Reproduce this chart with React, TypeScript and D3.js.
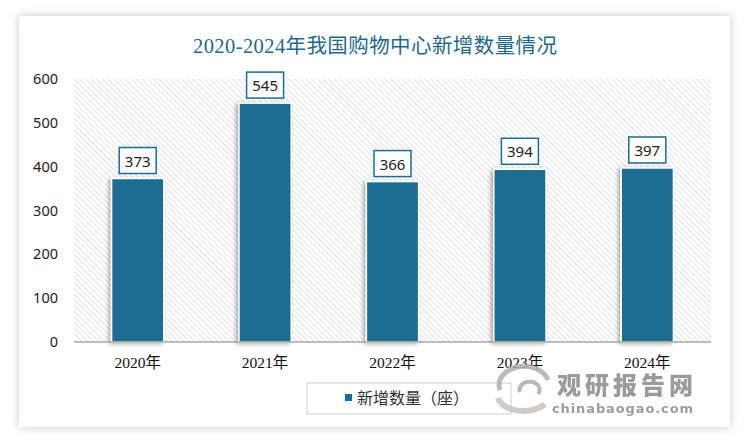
import React from "react";
import * as d3 from "d3";

const categories = ["2020年", "2021年", "2022年", "2023年", "2024年"];
const values = [373, 545, 366, 394, 397];
const yTicks = [0, 100, 200, 300, 400, 500, 600];
const title = "2020-2024年我国购物中心新增数量情况";
const seriesName = "新增数量（座）";

export default function App() {
  const W = 750, H = 445;
  const plot = { left: 74, right: 711, top: 79, bottom: 342 };
  const x = d3.scaleBand<string>().domain(categories).range([plot.left, plot.right]).paddingInner(0.59).paddingOuter(0.295);
  const y = d3.scaleLinear().domain([0, 600]).range([plot.bottom, plot.top]);
  const barColor = "#1d6d90";
  return (
    <svg width={W} height={H} style={{ position: "absolute", left: 0, top: 0 }}>
      <defs>
        <filter id="cardShadow" x="-10%" y="-10%" width="120%" height="120%">
          <feDropShadow dx="0" dy="0" stdDeviation="5" floodColor="#000" floodOpacity="0.22" />
        </filter>
        <filter id="barShadow" x="-30%" y="-10%" width="160%" height="120%">
          <feDropShadow dx="-2" dy="1" stdDeviation="2" floodColor="#000" floodOpacity="0.35" />
        </filter>
        <pattern id="hatch" width="4" height="4" patternUnits="userSpaceOnUse" patternTransform="rotate(-45)">
          <rect width="4" height="4" fill="#ffffff" />
          <line x1="0" y1="0" x2="0" y2="4" stroke="#cfcfcf" strokeWidth="1.2" />
        </pattern>
      </defs>
      <rect x={0} y={0} width={W} height={H} fill="#ffffff" />
      <rect x={19} y={16} width={711} height={411} fill="#ffffff" filter="url(#cardShadow)" />
      <text x={375} y={53} textAnchor="middle" fontFamily="'Liberation Serif', 'Noto Sans CJK SC', serif" fontSize={20.5} fill="#1f6a8c" textLength={364}>{title}</text>
      <rect x={plot.left} y={plot.top} width={plot.right - plot.left} height={plot.bottom - plot.top} fill="url(#hatch)" />
      {yTicks.map(t => (
        <text key={t} x={58} y={y(t) + 5} textAnchor="end" fontFamily="'Noto Sans', sans-serif" fontSize={14.5} fill="#222">{t}</text>
      ))}
      {categories.map((c, i) => {
        const bx = x(c)!;
        const bw = x.bandwidth();
        const by = y(values[i]);
        const cx = bx + bw / 2;
        return (
          <g key={c}>
            <rect x={bx} y={by} width={bw} height={plot.bottom - by} fill={barColor} stroke="#ffffff" strokeWidth={1.5} filter="url(#barShadow)" />
            <rect x={cx - 18.5} y={by - 31} width={37} height={26} fill="#ffffff" stroke="#1d6d90" strokeWidth={1.5} />
            <text x={cx} y={by - 12} textAnchor="middle" fontFamily="'Noto Sans', sans-serif" fontSize={15} fill="#222">{values[i]}</text>
            <text x={cx} y={368} textAnchor="middle" fontFamily="'Liberation Serif', 'Noto Sans CJK SC', serif" fontSize={15.5} fill="#111">{c}</text>
          </g>
        );
      })}
      <line x1={plot.left} x2={plot.right} y1={plot.bottom} y2={plot.bottom} stroke="#808080" strokeWidth={1.2} />
      <rect x={307} y={383} width={204} height={31} fill="#ffffff" stroke="#d0d0d0" strokeWidth={1} />
      <rect x={345} y={394} width={7} height={7} fill={barColor} />
      <text x={357} y={404} fontFamily="'Noto Sans CJK SC', sans-serif" fontSize={16} fill="#333">{seriesName}</text>
      <g opacity={0.85}>
        <path d="M 500 390 A 24 18 0 0 1 548 380" fill="none" stroke="#b0b0b0" strokeWidth={5} />
        <path d="M 498 398 A 26 16 0 0 0 545 404" fill="none" stroke="#c9c5bd" strokeWidth={6} />
        <path d="M 520 392 A 10 8 0 1 1 538 394" fill="none" stroke="#a8aeb2" strokeWidth={4} />
        <text x={557} y={394} fontFamily="'Noto Sans CJK SC', sans-serif" fontWeight={900} fontSize={24} fill="#8a8a8a" textLength={136}>观研报告网</text>
        <text x={552} y={413} fontFamily="'DejaVu Sans', sans-serif" fontWeight={600} fontSize={13} fill="#8c8c8c" textLength={141}>chinabaogao.com</text>
      </g>
    </svg>
  );
}
